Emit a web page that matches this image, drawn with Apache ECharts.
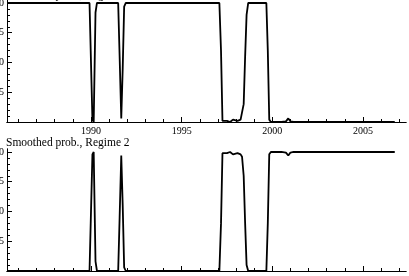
<!DOCTYPE html>
<html>
<head>
<meta charset="utf-8">
<script src="https://cdn.jsdelivr.net/npm/echarts@6/dist/echarts.min.js"></script>
<style>
html,body{margin:0;padding:0;background:#fff;}
#c{width:409px;height:276px;}
</style>
</head>
<body>
<div id="c"></div>
<script>
// decimal years
const dates = [1985.42, 1987.0, 1988.5, 1989.92, 1990.0, 1990.08, 1990.15, 1990.25, 1990.33,
  1991.0, 1991.5, 1991.58, 1991.67, 1991.75, 1991.83, 1991.92,
  1993.0, 1994.17, 1994.25, 1994.33, 1996.0, 1997.08, 1997.17, 1997.25, 1997.33,
  1997.5, 1997.67, 1997.83, 1997.92, 1998.08, 1998.25, 1998.33, 1998.42, 1998.5, 1998.58, 1998.67,
  1999.0, 1999.5, 1999.67, 1999.75, 1999.83, 1999.92, 2000.5, 2000.75, 2000.88, 2001.0, 2001.17,
  2003.0, 2005.0, 2006.75];
const regime1 = [1.0, 1.0, 1.0, 1.0, 1.0, 0.02, 0.0, 0.92, 1.0,
  1.0, 1.0, 0.55, 0.03, 0.45, 0.97, 1.0,
  1.0, 1.0, 0.985, 1.0, 1.0, 1.0, 0.6, 0.01, 0.0,
  0.01, 0.0, 0.02, 0.01, 0.01, 0.02, 0.03, 0.15, 0.55, 0.9, 1.0,
  1.0, 1.0, 1.0, 0.6, 0.02, 0.0, 0.0, 0.005, 0.03, 0.005, 0.0,
  0.0, 0.0, 0.0];
const regime2 = [0.0, 0.0, 0.0, 0.0, 0.0, 0.98, 1.0, 0.08, 0.0,
  0.0, 0.0, 0.45, 0.97, 0.55, 0.03, 0.0,
  0.0, 0.0, 0.01, 0.0, 0.0, 0.0, 0.4, 0.99, 1.0,
  0.99, 1.0, 0.98, 0.99, 0.99, 0.98, 0.96, 0.8, 0.4, 0.05, 0.0,
  0.0, 0.0, 0.0, 0.4, 0.98, 1.0, 1.0, 0.995, 0.97, 0.995, 1.0,
  1.0, 1.0, 1.0];
const titles = ["Smoothed prob., Regime 1", "Smoothed prob., Regime 2"];
const xLabels = [1990, 1995, 2000, 2005];
const xMinor = [1986,1987,1988,1989,1991,1992,1993,1994,1996,1997,1998,1999,2001,2002,2003,2004,2006,2007];
const yLabels = [0.25, 0.5, 0.75, 1.0];
const yMinor = [0.05,0.1,0.15,0.2,0.3,0.35,0.4,0.45,0.55,0.6,0.65,0.7,0.8,0.85,0.9,0.95];

const FONT = "Liberation Serif";
const XMIN = 1985.37, XMAX = 2007.37, YMAX = 1.025;
const grids = [
  {left: 7, right: 3, top: 0, height: 122, outerBoundsMode: 'none', containLabel: false},
  {left: 7, right: 3, top: 149, height: 122, outerBoundsMode: 'none', containLabel: false}
];
const xAxis = [], yAxis = [], series = [];
grids.forEach((g, i) => {
  xAxis.push({
    type: 'value', gridIndex: i, min: XMIN, max: XMAX, position: 'bottom',
    axisLine: {show: true, onZero: false, lineStyle: {color: '#000', width: 1}},
    axisTick: {show: true, inside: true, length: 5, customValues: xLabels, lineStyle: {color: '#000'}},
    axisLabel: {show: true, customValues: xLabels, margin: 4, color: '#000', fontFamily: FONT, fontSize: 10,
      formatter: v => String(Math.round(v))},
    splitLine: {show: false}
  });
  xAxis.push({
    type: 'value', gridIndex: i, min: XMIN, max: XMAX, position: 'bottom',
    axisLine: {show: true, onZero: false, lineStyle: {color: '#000', width: 1}},
    axisTick: {show: true, inside: true, length: 3, customValues: xMinor, lineStyle: {color: '#000'}},
    axisLabel: {show: false, customValues: xMinor},
    splitLine: {show: false}
  });
  yAxis.push({
    type: 'value', gridIndex: i, min: 0, max: YMAX, position: 'left',
    axisLine: {show: true, onZero: false, lineStyle: {color: '#000', width: 1}},
    axisTick: {show: true, inside: true, length: 5, customValues: yLabels, lineStyle: {color: '#000'}},
    axisLabel: {show: true, customValues: yLabels, margin: 3, color: '#000', fontFamily: FONT, fontSize: 10,
      formatter: v => v.toFixed(2)},
    splitLine: {show: false}
  });
  yAxis.push({
    type: 'value', gridIndex: i, min: 0, max: YMAX, position: 'left',
    axisLine: {show: true, onZero: false, lineStyle: {color: '#000', width: 1}},
    axisTick: {show: true, inside: true, length: 3, customValues: yMinor, lineStyle: {color: '#000'}},
    axisLabel: {show: false, customValues: yMinor},
    splitLine: {show: false}
  });
});
const vals = [regime1, regime2];
vals.forEach((arr, i) => {
  series.push({
    type: 'line', xAxisIndex: i * 2, yAxisIndex: i * 2,
    data: dates.map((d, k) => [d, arr[k]]),
    showSymbol: false, symbol: 'none',
    lineStyle: {color: '#000', width: 1.8},
    clip: false
  });
});
const chart = echarts.init(document.getElementById('c'), null, {renderer: 'canvas'});
chart.setOption({
  animation: false,
  backgroundColor: '#fff',
  title: [
    {text: titles[0], left: 6, top: -11, padding: 0, textStyle: {fontFamily: FONT, fontSize: 11.5, fontWeight: 'normal', color: '#000'}},
    {text: titles[1], left: 6, top: 137, padding: 0, textStyle: {fontFamily: FONT, fontSize: 11.5, fontWeight: 'normal', color: '#000'}}
  ],
  grid: grids,
  xAxis: xAxis,
  yAxis: yAxis,
  series: series
});
</script>
</body>
</html>
